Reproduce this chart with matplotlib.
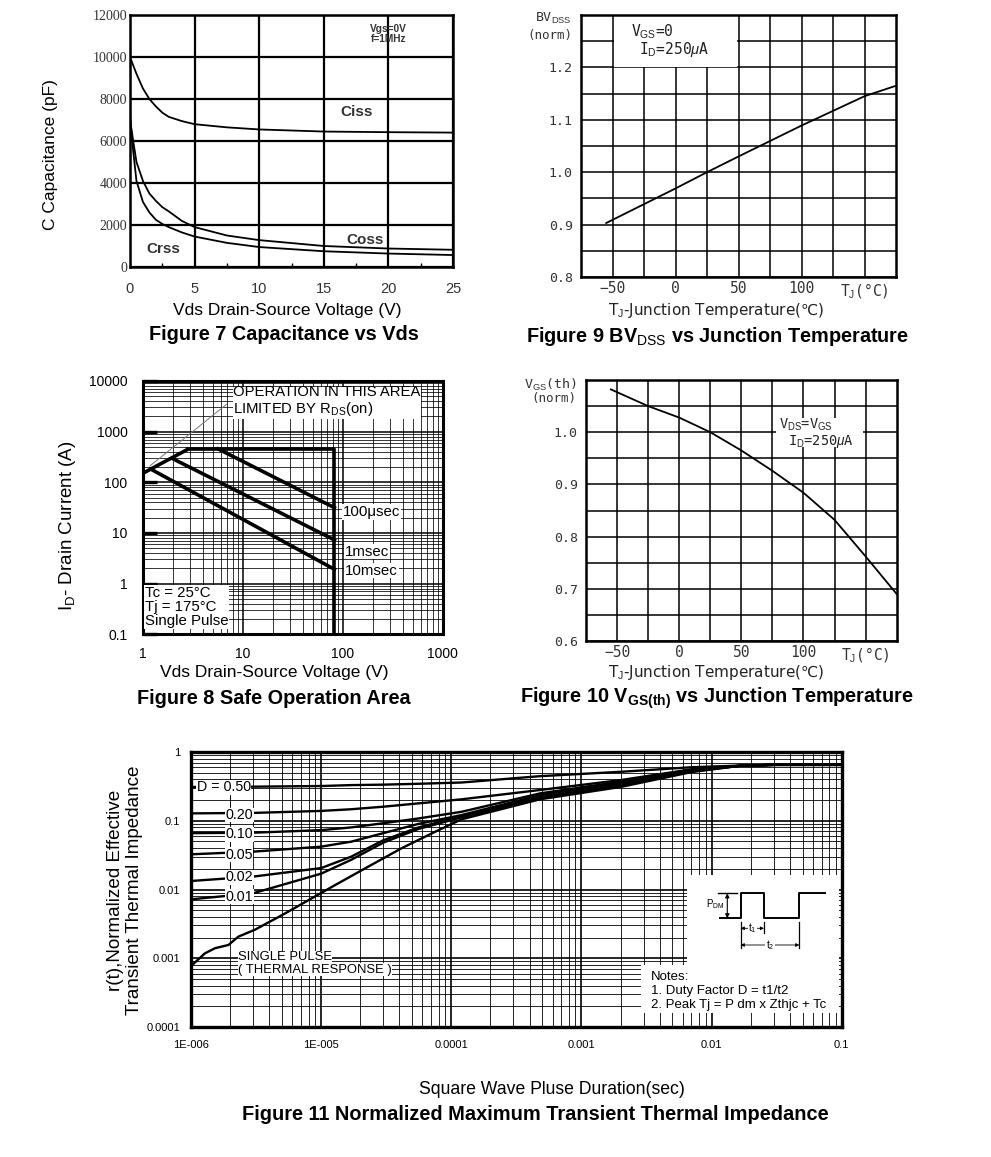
import numpy as np
import matplotlib.pyplot as plt
from matplotlib.patches import Rectangle
from matplotlib.ticker import LogLocator, NullFormatter

plt.rcParams['font.family'] = ['Liberation Sans', 'DejaVu Sans']
plt.rcParams['mathtext.fontset'] = 'custom'
plt.rcParams['mathtext.rm'] = 'Liberation Sans'
plt.rcParams['mathtext.it'] = 'Liberation Sans:italic'
plt.rcParams['mathtext.bf'] = 'Liberation Sans:bold'

""" DATA """
# Figure 7 - capacitance vs Vds
vds = [0, 0.25, 0.5, 1, 1.5, 2, 2.5, 3, 4, 5, 7.5, 10, 15, 20, 25]
ciss = [10000, 9600, 9200, 8500, 8000, 7650, 7350, 7150, 6950, 6800, 6650, 6550, 6450, 6420, 6400]
coss = [7000, 6000, 5000, 4100, 3500, 3150, 2850, 2650, 2200, 1900, 1500, 1280, 1000, 880, 820]
crss = [7200, 5500, 4100, 3100, 2600, 2250, 2050, 1900, 1650, 1450, 1150, 950, 750, 640, 570]
cap_xticks = [0, 5, 10, 15, 20, 25]
cap_yticks = [0, 2000, 4000, 6000, 8000, 10000, 12000]

# Figure 8 - safe operating area
rds_v = [1, 2.86]
rds_i = [150, 455]
dc_v = [2.86, 82.6, 82.6]
dc_i = [455, 455, 0.1]
us100_v = [5.7, 82.6]
us100_i = [455, 31.6]
ms1_v = [2.03, 82.6]
ms1_i = [288, 7.3]
ms10_v = [1.2, 82.6]
ms10_i = [183, 1.92]
leader_v = [1.19, 6.9]
leader_i = [213, 3470]
soa_xticks = [1, 10, 100, 1000]
soa_xlabels = ['1', '10', '100', '1000']
soa_yticks = [0.1, 1, 10, 100, 1000, 10000]
soa_ylabels = ['0.1', '1', '10', '100', '1000', '10000']

# Figure 9 - BVdss vs Tj
tj_bv = [-55, 0, 25, 50, 100, 150, 175]
bv_norm = [0.903, 0.969, 1.0, 1.030, 1.089, 1.145, 1.165]
bv_yticks = [0.8, 0.9, 1.0, 1.1, 1.2]
bv_ylabels = ['0.8', '0.9', '1.0', '1.1', '1.2']

# Figure 10 - Vgs(th) vs Tj
tj_vth = [-55, -25, 0, 25, 50, 75, 100, 125, 150, 175]
vth_norm = [1.082, 1.05, 1.028, 1.0, 0.965, 0.926, 0.884, 0.832, 0.762, 0.69]
vth_yticks = [0.6, 0.7, 0.8, 0.9, 1.0]
vth_ylabels = ['0.6', '0.7', '0.8', '0.9', '1.0']

temp_ticks = [-50, 0, 50, 100, 150]
temp_labels = ['\u221250', '0', '50', '100', 'T$_{\\rm J}$(\u00b0C)']

# Figure 11 - transient thermal impedance
zth_t = [1e-6, 3e-6, 1e-5, 1.7e-5, 3e-5, 5.6e-5, 1.2e-4, 4.8e-4, 2e-3, 7e-3, 1.65e-2, 3e-2, 1e-1]
d50 = [0.31, 0.313, 0.32, 0.33, 0.335, 0.345, 0.36, 0.445, 0.515, 0.60, 0.635, 0.65, 0.65]
d20 = [0.128, 0.13, 0.139, 0.147, 0.16, 0.179, 0.205, 0.28, 0.39, 0.56, 0.63, 0.65, 0.65]
d10 = [0.066, 0.067, 0.073, 0.080, 0.092, 0.108, 0.135, 0.25, 0.37, 0.55, 0.63, 0.65, 0.65]
d05 = [0.0325, 0.0355, 0.042, 0.0496, 0.066, 0.09, 0.121, 0.235, 0.35, 0.54, 0.63, 0.65, 0.65]
d02 = [0.0133, 0.0154, 0.0205, 0.030, 0.052, 0.08, 0.116, 0.22, 0.33, 0.53, 0.63, 0.65, 0.65]
d01 = [0.0072, 0.0088, 0.0170, 0.027, 0.048, 0.076, 0.112, 0.215, 0.32, 0.52, 0.63, 0.65, 0.65]
duty_labels = ['D = 0.50', '0.20', '0.10', '0.05', '0.02', '0.01']
duty_label_y = [0.307, 0.121, 0.0635, 0.032, 0.0151, 0.0079]
sp_t = [1e-6, 1.28e-6, 1.53e-6, 1.94e-6, 2.31e-6, 3.1e-6, 5.3e-6, 8e-6, 1.28e-5, 2.3e-5,
        4.17e-5, 7.5e-5, 1.2e-4, 4.8e-4, 2e-3, 7e-3, 1.65e-2, 3e-2, 1e-1]
sp_z = [0.00077, 0.00118, 0.0014, 0.00156, 0.00206, 0.0026, 0.0045, 0.0070, 0.0116, 0.0215,
        0.040, 0.069, 0.105, 0.205, 0.31, 0.51, 0.63, 0.65, 0.65]
zth_xticks = [1e-6, 1e-5, 1e-4, 1e-3, 1e-2, 1e-1]
zth_xlabels = ['1E-006', '1E-005', '0.0001', '0.001', '0.01', '0.1']
zth_yticks = [1e-4, 1e-3, 1e-2, 1e-1, 1]
zth_ylabels = ['0.0001', '0.001', '0.01', '0.1', '1']

# pulse sketch in the inset (sketch units)
pulse_x = [20, 40.7, 40.7, 64, 64, 99.3, 99.3, 125]
pulse_y = [36.7, 36.7, 61.7, 61.7, 36.7, 36.7, 61.7, 61.7]

""" LAYOUT HELPERS """
W, H = 991, 1157
fig = plt.figure(figsize=(W / 100, H / 100), dpi=100)
TITLE = 14.3


def box(l, t, r, b):
    return [l / W, 1 - b / H, (r - l) / W, (b - t) / H]


def put(x, y, s, **kw):
    fig.text(x / W, 1 - y / H, s, **kw)


def frame(ax, lw):
    for s in ax.spines.values():
        s.set_linewidth(lw)


""" FIGURE 7 """
ax7 = fig.add_axes(box(130, 15, 453, 267))
ax7.plot(vds, ciss, color='k', lw=1.3, zorder=3)
ax7.plot(vds, coss, color='k', lw=1.3, zorder=3)
ax7.plot(vds, crss, color='k', lw=1.3, zorder=3)
ax7.set_xlim(0, 25)
ax7.set_ylim(0, 12000)
ax7.set_xticks(cap_xticks)
ax7.set_yticks(cap_yticks)
ax7.set_yticklabels([str(v) for v in cap_yticks], fontfamily='Liberation Serif', fontsize=10)
ax7.set_xticks([2.5, 7.5, 12.5, 17.5, 22.5], minor=True)
ax7.grid(which='major', color='k', lw=1.6)
ax7.tick_params(which='major', length=0, labelcolor='#333333')
ax7.tick_params(axis='x', which='major', pad=11, labelsize=10.5)
ax7.tick_params(axis='y', which='major', pad=2)
ax7.tick_params(which='minor', direction='in', length=3, width=1)
frame(ax7, 1.8)
ax7.text(17.5, 7400, 'Ciss', fontsize=11, fontweight='bold', color='#333333', ha='center', va='center')
ax7.text(18.2, 1300, 'Coss', fontsize=11, fontweight='bold', color='#333333', ha='center', va='center')
ax7.text(2.6, 870, 'Crss', fontsize=11, fontweight='bold', color='#333333', ha='center', va='center')
ax7.text(20, 11100, 'Vgs=0V\nf=1MHz', fontsize=7.3, fontweight='bold', color='#333333',
         ha='center', va='center', linespacing=1.0)
put(51, 155, 'C Capacitance (pF)', rotation=90, ha='center', va='center', fontsize=12.5)
put(287, 310, 'Vds Drain-Source Voltage (V)', ha='center', va='center', fontsize=12.5)
put(284, 335, 'Figure 7 Capacitance vs Vds', ha='center', va='center', fontsize=TITLE, fontweight='bold')

""" FIGURE 9 """
ax9 = fig.add_axes(box(581, 15, 896, 277))
ax9.plot(tj_bv, bv_norm, color='k', lw=1.3, zorder=3)
ax9.set_xlim(-75, 175)
ax9.set_ylim(0.8, 1.3)
ax9.set_xticks(temp_ticks)
ax9.set_xticklabels(temp_labels, fontfamily='DejaVu Sans Mono')
ax9.set_xticks([-25, 25, 75, 125], minor=True)
ax9.set_yticks(bv_yticks)
ax9.set_yticklabels(bv_ylabels, fontfamily='DejaVu Sans Mono')
ax9.set_yticks([0.85, 0.95, 1.05, 1.15, 1.25], minor=True)
ax9.grid(which='both', color='k', lw=1.1)
ax9.tick_params(which='both', length=0, labelcolor='#333333')
ax9.tick_params(axis='x', pad=3, labelsize=10.5)
ax9.tick_params(axis='y', pad=6, labelsize=9.5)
frame(ax9, 1.8)
ax9.add_patch(Rectangle((-49, 1.2), 98, 0.099, fc='white', ec='none', zorder=2))
ax9.text(-35, 1.268, 'V$_{\\rm GS}$=0', fontsize=10.5, fontfamily='DejaVu Sans Mono', color='#222222',
         va='center', zorder=4)
ax9.text(-29, 1.234, 'I$_{\\rm D}$=250$\\mu$A', fontsize=10.5, fontfamily='DejaVu Sans Mono', color='#222222',
         va='center', zorder=4)
put(572, 18, 'BV$_{\\rm DSS}$', ha='right', va='center', fontsize=9.5, fontfamily='DejaVu Sans Mono', color='#333333')
put(572, 35, '(norm)', ha='right', va='center', fontsize=9, fontfamily='DejaVu Sans Mono', color='#333333')
put(716, 311, 'T$_{\\rm J}$-Junction Temperature(\u2103)', ha='center', va='center', fontsize=11,
    fontfamily='DejaVu Sans', color='#222222')
put(717, 336, 'Figure 9 BV$_{\\rm DSS}$ vs Junction Temperature', ha='center', va='center',
    fontsize=TITLE, fontweight='bold')

""" FIGURE 8 """
ax8 = fig.add_axes(box(142.7, 381, 442.7, 634.3))
ax8.set_xscale('log')
ax8.set_yscale('log')
ax8.set_xlim(1, 1000)
ax8.set_ylim(0.1, 10000)
ax8.plot(rds_v, rds_i, color='k', lw=2.6, zorder=3, solid_capstyle='butt')
ax8.plot(dc_v, dc_i, color='k', lw=2.6, zorder=3)
ax8.plot(us100_v, us100_i, color='k', lw=2.6, zorder=3)
ax8.plot(ms1_v, ms1_i, color='k', lw=2.6, zorder=3)
ax8.plot(ms10_v, ms10_i, color='k', lw=2.6, zorder=3)
ax8.plot(leader_v, leader_i, color='#777777', lw=0.7, zorder=3)
ax8.xaxis.set_minor_locator(LogLocator(base=10, subs=np.arange(2, 10), numticks=50))
ax8.yaxis.set_minor_locator(LogLocator(base=10, subs=np.arange(2, 10), numticks=50))
ax8.xaxis.set_minor_formatter(NullFormatter())
ax8.yaxis.set_minor_formatter(NullFormatter())
ax8.set_xticks(soa_xticks)
ax8.set_xticklabels(soa_xlabels)
ax8.set_yticks(soa_yticks)
ax8.set_yticklabels(soa_ylabels)
ax8.grid(which='major', color='k', lw=1.1)
ax8.grid(which='minor', color='k', lw=0.55)
ax8.tick_params(which='minor', length=0)
ax8.tick_params(axis='x', which='major', length=0, pad=9, labelsize=10)
ax8.tick_params(axis='y', which='major', direction='in', length=10, width=2.4, pad=11, labelsize=10)
frame(ax8, 2.2)
wb = dict(facecolor='white', edgecolor='none', pad=0.5)
ax8.text(8.05, 3900, 'OPERATION IN THIS AREA\nLIMITED BY R$_{\\rm DS}$(on)', fontsize=10.7,
         va='center', ha='left', linespacing=1.05, bbox=wb, zorder=4)
ax8.text(101, 26, '100\u03bcsec', fontsize=10.8, va='center', ha='left', bbox=wb, zorder=4)
ax8.text(106, 4.3, '1msec', fontsize=10.8, va='center', ha='left', bbox=wb, zorder=4)
ax8.text(106, 1.8, '10msec', fontsize=10.8, va='center', ha='left', bbox=wb, zorder=4)
ax8.text(1.05, 0.9, 'Tc = 25\u00b0C\nTj = 175\u00b0C\nSingle Pulse', fontsize=10.8, va='top', ha='left',
         linespacing=1.0, bbox=wb, zorder=4)
put(67, 526, 'I$_{\\rm D}$- Drain Current (A)', rotation=90, ha='center', va='center', fontsize=13.5)
put(274, 673, 'Vds Drain-Source Voltage (V)', ha='center', va='center', fontsize=12.5)
put(274, 698, 'Figure 8 Safe Operation Area', ha='center', va='center', fontsize=TITLE, fontweight='bold')

""" FIGURE 10 """
ax10 = fig.add_axes(box(586, 380, 896.7, 641))
ax10.plot(tj_vth, vth_norm, color='k', lw=1.3, zorder=3)
ax10.set_xlim(-75, 175)
ax10.set_ylim(0.6, 1.1)
ax10.set_xticks(temp_ticks)
ax10.set_xticklabels(temp_labels, fontfamily='DejaVu Sans Mono')
ax10.set_xticks([-25, 25, 75, 125], minor=True)
ax10.set_yticks(vth_yticks)
ax10.set_yticklabels(vth_ylabels, fontfamily='DejaVu Sans Mono')
ax10.set_yticks([0.65, 0.75, 0.85, 0.95, 1.05], minor=True)
ax10.grid(which='both', color='k', lw=1.1)
ax10.tick_params(which='both', length=0, labelcolor='#333333')
ax10.tick_params(axis='x', pad=3, labelsize=10.5)
ax10.tick_params(axis='y', pad=6, labelsize=9.5)
frame(ax10, 1.8)
ax10.add_patch(Rectangle((78, 0.972), 70, 0.056, fc='white', ec='none', zorder=2))
ax10.text(80, 1.0145, 'V$_{\\rm DS}$=V$_{\\rm GS}$', fontsize=9.8, fontfamily='DejaVu Sans Mono',
          color='#222222', va='center', zorder=4)
ax10.text(87.5, 0.983, 'I$_{\\rm D}$=250$\\mu$A', fontsize=9.8, fontfamily='DejaVu Sans Mono',
          color='#222222', va='center', zorder=4)
put(577, 385, 'V$_{\\rm GS}$(th)', ha='right', va='center', fontsize=9.5, fontfamily='DejaVu Sans Mono', color='#333333')
put(576, 399, '(norm)', ha='right', va='center', fontsize=9, fontfamily='DejaVu Sans Mono', color='#333333')
put(716, 673, 'T$_{\\rm J}$-Junction Temperature(\u2103)', ha='center', va='center', fontsize=11,
    fontfamily='DejaVu Sans', color='#222222')
put(717, 698, 'Figure 10 V$_{\\mathbf{GS(th)}}$ vs Junction Temperature', ha='center', va='center',
    fontsize=TITLE, fontweight='bold')

""" FIGURE 11 """
ax11 = fig.add_axes(box(191, 752, 841.7, 1027))
ax11.set_xscale('log')
ax11.set_yscale('log')
ax11.set_xlim(1e-6, 1e-1)
ax11.set_ylim(1e-4, 1)
for curve in [d50, d20, d10, d05, d02, d01]:
    ax11.plot(zth_t, curve, color='k', lw=1.7, zorder=3)
ax11.plot(sp_t, sp_z, color='k', lw=1.7, zorder=3)
ax11.xaxis.set_minor_locator(LogLocator(base=10, subs=np.arange(2, 10), numticks=50))
ax11.yaxis.set_minor_locator(LogLocator(base=10, subs=np.arange(2, 10), numticks=50))
ax11.xaxis.set_minor_formatter(NullFormatter())
ax11.yaxis.set_minor_formatter(NullFormatter())
ax11.set_xticks(zth_xticks)
ax11.set_xticklabels(zth_xlabels)
ax11.set_yticks(zth_yticks)
ax11.set_yticklabels(zth_ylabels)
ax11.grid(which='major', color='k', lw=1.2)
ax11.grid(which='minor', color='k', lw=0.6)
ax11.tick_params(which='both', length=0, labelsize=8)
ax11.tick_params(axis='x', pad=9)
ax11.tick_params(axis='y', pad=8)
frame(ax11, 2.4)

# duty-cycle labels with dashed leader
ax11.plot([2.0e-6, 2.0e-6], [0.0085, 0.3], color='k', lw=0.7, ls=(0, (4, 3)), zorder=2.5)
wb2 = dict(facecolor='white', edgecolor='none', pad=0.3)
for i, (lab, yv) in enumerate(zip(duty_labels, duty_label_y)):
    xv = 1.78e-6 if i == 0 else 2.35e-6
    ax11.text(xv, yv, lab, fontsize=10.3, ha='center', va='center', bbox=wb2, zorder=4)
ax11.text(2.3e-6, 0.00104, 'SINGLE PULSE', fontsize=9.4, ha='left', va='center', bbox=wb2, zorder=4)
ax11.text(2.3e-6, 0.00068, '( THERMAL RESPONSE )', fontsize=9.4, ha='left', va='center', bbox=wb2, zorder=4)

# notes area
ax11.add_patch(Rectangle((6.5e-3, 8e-4), 0.095 - 6.5e-3, 0.0163 - 8e-4, fc='white', ec='none', zorder=2))
ax11.add_patch(Rectangle((2.85e-3, 1.6e-4), 0.095 - 2.85e-3, 8e-4 - 1.6e-4, fc='white', ec='none', zorder=2))
ax11.text(3.4e-3, 6.5e-4, 'Notes:\n1. Duty Factor D = t1/t2\n2. Peak Tj = P dm x Zthjc + Tc',
          fontsize=9.5, ha='left', va='top', linespacing=1.2, zorder=4)

ins = ax11.inset_axes([(700 - 191) / 650.7, (1027 - 955) / 275, 140 / 650.7, 70 / 275])
ins.set_xlim(0, 140)
ins.set_ylim(0, 70)
ins.axis('off')
ins.plot(pulse_x, pulse_y, color='k', lw=1.4)
ins.plot([18.3, 36.7], [61.7, 61.7], color='k', lw=1.0)
ins.annotate('', xy=(27.3, 61.7), xytext=(27.3, 36.7),
             arrowprops=dict(arrowstyle='<|-|>', lw=0.8, color='k', mutation_scale=6, shrinkA=0, shrinkB=0))
ins.text(15.5, 51, 'P$_{\\rm DM}$', fontsize=7, ha='center', va='center')
ins.plot([40.7, 40.7], [33.3, 6.7], color='k', lw=0.9)
ins.plot([64, 64], [33.3, 21.7], color='k', lw=0.9)
ins.plot([99.3, 99.3], [33.3, 6.7], color='k', lw=0.9)
ins.annotate('', xy=(40.7, 26.7), xytext=(64, 26.7),
             arrowprops=dict(arrowstyle='<|-|>', lw=0.6, color='k', mutation_scale=5, shrinkA=0, shrinkB=0))
ins.text(52.3, 26.7, 't$_1$', fontsize=7.5, ha='center', va='center',
         bbox=dict(facecolor='white', edgecolor='none', pad=0.2))
ins.annotate('', xy=(40.7, 10), xytext=(99.3, 10),
             arrowprops=dict(arrowstyle='<|-|>', lw=0.6, color='k', mutation_scale=5, shrinkA=0, shrinkB=0))
ins.text(70, 10, 't$_2$', fontsize=7.5, ha='center', va='center',
         bbox=dict(facecolor='white', edgecolor='none', pad=0.2))

put(125, 890, 'r(t),Normalized Effective\nTransient Thermal Impedance', rotation=90, ha='center',
    va='center', multialignment='center', fontsize=13.6, linespacing=1.15)
put(552, 1090, 'Square Wave Pluse Duration(sec)', ha='center', va='center', fontsize=12.7)
put(535, 1115, 'Figure 11 Normalized Maximum Transient Thermal Impedance', ha='center', va='center',
    fontsize=14.4, fontweight='bold')

fig.savefig('out.png', dpi=100, facecolor='white')
